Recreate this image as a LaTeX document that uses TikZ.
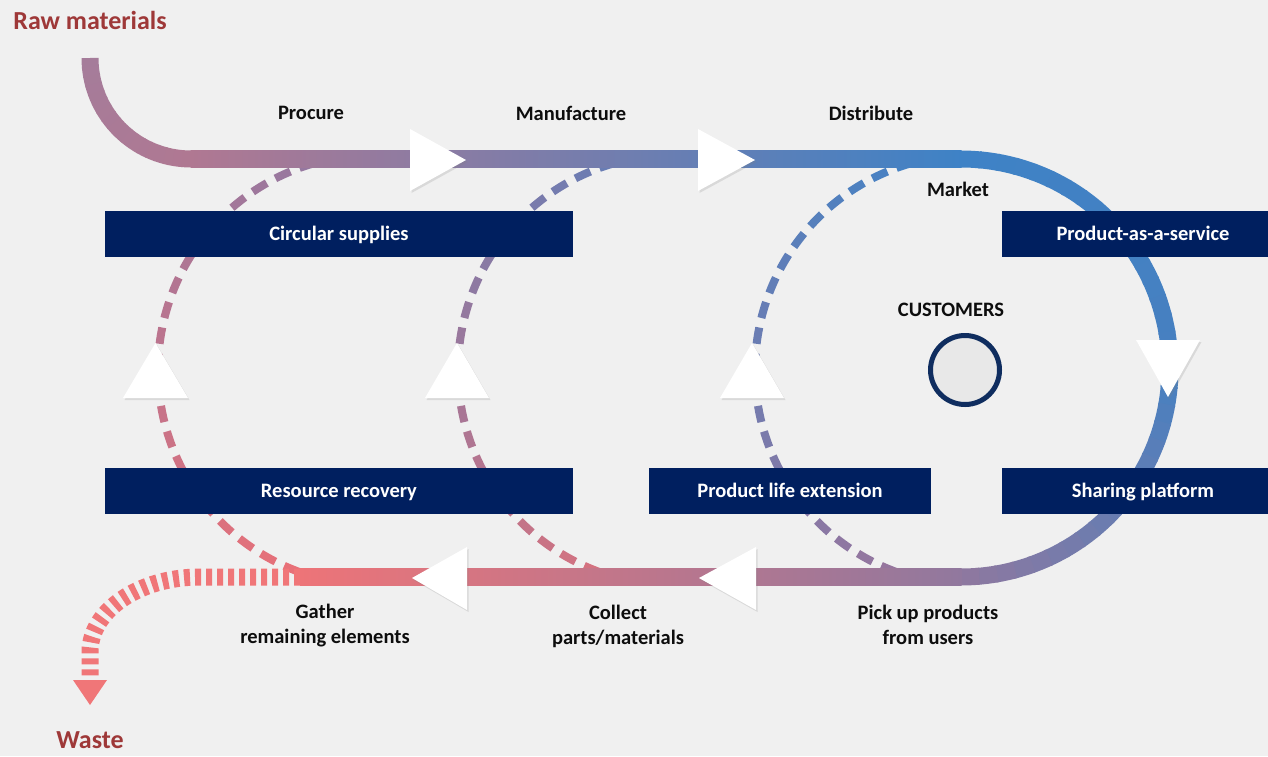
\documentclass[tikz,border=0pt]{standalone}
\usepackage{fontspec}
\setmainfont{Carlito}
\usetikzlibrary{shadows}

\definecolor{bgGray}{RGB}{240,240,240}
\definecolor{boxNavy}{RGB}{0,31,95}
\definecolor{custNavy}{RGB}{15,45,95}
\definecolor{custFill}{RGB}{232,232,232}
\definecolor{rawRed}{RGB}{158,56,56}
\definecolor{lblBlack}{RGB}{13,13,13}
% colours along the main flow
\definecolor{cRaw}{RGB}{165,124,154}
\definecolor{cPink}{RGB}{176,120,146}
\definecolor{cBlue}{RGB}{62,130,198}
\definecolor{cBlueB}{RGB}{72,128,192}
\definecolor{cPurp}{RGB}{145,120,158}
\definecolor{cSalmon}{RGB}{237,116,120}
\definecolor{cWaste}{RGB}{240,118,120}
% colours of the inner loops
\definecolor{lpTopA}{RGB}{150,120,160}
\definecolor{lpBotA}{RGB}{232,112,120}
\definecolor{lpTopB}{RGB}{105,125,180}
\definecolor{lpBotB}{RGB}{212,114,128}
\definecolor{lpTopC}{RGB}{70,130,196}
\definecolor{lpBotC}{RGB}{150,118,158}

\tikzset{
  flow/.style={line width=17pt},
  loopdash/.style={line width=8pt},
  tri/.style={fill=white, drop shadow={opacity=0.2, shadow xshift=1.5pt, shadow yshift=-2pt}},
  lbl/.style={font=\fontsize{20.5}{25}\selectfont\bfseries, text=lblBlack, align=center},
  endlbl/.style={font=\fontsize{26}{30}\selectfont\bfseries, text=rawRed, inner sep=0pt},
  stagebox/.style={fill=boxNavy, text=white, font=\fontsize{20.5}{25}\selectfont\bfseries,
    minimum height=46pt, inner sep=0pt, text height=13.2pt, text depth=0pt},
}

\begin{document}
\begin{tikzpicture}[x=1pt, y=-1pt]

\useasboundingbox (0,0) rectangle (1268,756);
\clip (0,0) rectangle (1268,756);
\fill[bgGray] (0,0) rectangle (1268,756);

% Inner loops (dashed)
\foreach \cx/\ctop/\cbot in {373/lpTopA/lpBotA, 673/lpTopB/lpBotB, 970/lpTopC/lpBotC} {
  \foreach \a in {110,117,...,250} {
    \pgfmathtruncatemacro\p{100*(\a-110)/140}
    \draw[loopdash, draw=\ctop!\p!\cbot, shift={(\cx,370)}] (\a:215) arc[start angle=\a, delta angle=4.4, radius=215];
  }
}

% Main flow
\foreach \a in {180,175,...,95} {
  \pgfmathtruncatemacro\p{100*(180-\a)/90}
  \draw[flow, draw=cPink!\p!cRaw, shift={(191,58)}] (\a:101) arc[start angle=\a, delta angle=-5.6, radius=101];
}
\shade[left color=cPink, right color=cBlue] (190.5,150.5) rectangle (961.5,167.5);

\foreach \a in {270,275,...,355} {
  \pgfmathtruncatemacro\p{100*(\a-270)/90}
  \draw[flow, draw=cBlueB!\p!cBlue, shift={(961,368)}] (\a:209) arc[start angle=\a, delta angle=5.6, radius=209];
}
\foreach \a in {360,365,...,445} {
  \pgfmathtruncatemacro\p{100*(\a-360)/90}
  \draw[flow, draw=cPurp!\p!cBlueB, shift={(961,368)}] (\a:209) arc[start angle=\a, delta angle=5.6, radius=209];
}
\shade[left color=cSalmon, right color=cPurp] (300,568.5) rectangle (961.5,585.5);

% Waste
\draw[flow, draw=cWaste, dash pattern=on 6pt off 5pt] (300,577) -- (200,577)
  arc[start angle=270, delta angle=-90, x radius=110, y radius=75] -- (90,681);
\fill[cWaste] (73,680) -- (107,680) -- (90,705) -- cycle;

% Arrow heads
\fill[tri] (410,129) -- (466,160) -- (410,191) -- cycle;
\fill[tri] (698,129) -- (755,160) -- (698,191) -- cycle;
\fill[tri] (1136,340) -- (1200,340) -- (1168,397) -- cycle;
\fill[tri] (467,547) -- (412,578) -- (467,610) -- cycle;
\fill[tri] (756,547) -- (699,578) -- (756,610) -- cycle;
\fill[tri] (123,398) -- (155.5,343) -- (188,398) -- cycle;
\fill[tri] (425,398) -- (457,343) -- (489,398) -- cycle;
\fill[tri] (720,398) -- (752,343) -- (784,398) -- cycle;

% Stages
\node[stagebox, minimum width=468pt] (circsup) at (339,234) {Circular supplies};
\node[stagebox, minimum width=468pt] (resrec) at (339,491) {Resource recovery};
\node[stagebox, minimum width=282pt] (lifeext) at (790,491) {Product life extension};
\node[stagebox, minimum width=282pt] (paas) at (1143,234) {Product-as-a-service};
\node[stagebox, minimum width=282pt] (sharing) at (1143,491) {Sharing platform};

% Customers
\node[circle, draw=custNavy, line width=5pt, fill=custFill, minimum size=69pt, inner sep=0pt] (cust) at (965,370) {};
\node[lbl] (custlbl) at (951,310) {CUSTOMERS};

% Labels
\node[endlbl] (raw) at (90,20) {Raw materials};
\node[endlbl] (waste) at (90,740) {Waste};
\node[lbl] (procure) at (311,113) {Procure};
\node[lbl] (manuf) at (571,113) {Manufacture};
\node[lbl] (distr) at (871,113) {Distribute};
\node[lbl] (market) at (958,189) {Market};
\node[lbl] (gather) at (325,626) {Gather\\remaining elements};
\node[lbl] (collect) at (618,626) {Collect\\parts/materials};
\node[lbl] (pickup) at (928,625) {Pick up products\\from users};

\end{tikzpicture}
\end{document}
